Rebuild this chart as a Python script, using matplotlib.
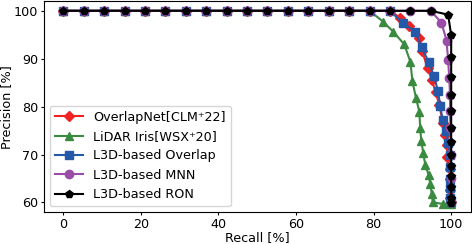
import matplotlib
matplotlib.use("Agg")
import matplotlib.pyplot as plt

plt.rcParams['font.size'] = 9.2

# recall values on the flat part (same for all curves)
topo = [k * 100 / 19 for k in range(19)]

# OverlapNet
rec_overlapnet = topo[:17] + [86.8, 89.2, 91.8, 92.5, 93.9, 95.0, 96.0, 96.9, 97.9, 98.4, 99.0, 99.0, 99.7, 99.8, 99.8, 99.8, 100]
prec_overlapnet = [100] * 17 + [98.6, 96.8, 94.4, 91.6, 88.1, 85.6, 83.0, 80.4, 76.5, 74.0, 71.9, 69.5, 67.0, 64.8, 62.5, 61.0, 60.0]

# LiDAR Iris
rec_iris = topo[:16] + [82.5, 85.1, 87.9, 89.5, 90.0, 90.9, 91.8, 92.0, 92.3, 92.8, 93.3, 94.2, 94.6, 95.0, 95.3, 97.9, 100]
prec_iris = [100] * 16 + [97.7, 95.6, 93.0, 89.3, 85.3, 81.9, 78.9, 75.6, 72.8, 70.3, 67.9, 65.7, 63.9, 61.7, 60.0, 59.7, 59.7]

# L3D Overlap
rec_overlap = topo[:17] + [87.5, 90.7, 92.4, 94.2, 95.6, 96.6, 97.2, 97.8, 98.6, 99.3, 99.7, 99.8, 99.8, 99.8, 99.8, 100]
prec_overlap = [100] * 17 + [97.5, 95.6, 92.4, 89.3, 86.3, 83.2, 80.1, 77.2, 74.9, 72.5, 70.0, 67.4, 64.8, 63.0, 61.0, 60.0]

# L3D MNN
rec_mnn = topo + [97.5, 98.8, 99.2, 99.5, 99.7, 99.7, 99.8, 99.9, 99.9, 100]
prec_mnn = [100] * 19 + [97.5, 93.8, 89.8, 86.0, 82.5, 79.1, 75.6, 70.0, 65.0, 60.0]

# L3D RON
rec_ron = topo + [99.2] + [100] * 13
prec_ron = [100] * 19 + [99.2, 94.9, 90.3, 86.2, 82.5, 79.1, 75.6, 72.6, 69.8, 67.7, 65.5, 63.3, 61.0, 59.8]

fig, ax = plt.subplots(figsize=(4.72, 2.44), dpi=100)
fig.subplots_adjust(left=0.093, right=0.997, top=0.995, bottom=0.131)

ax.plot(rec_overlapnet, prec_overlapnet, '-', marker='D', color='#f02222', lw=1.5, ms=5, label='OverlapNet[CLM⁺22]')
ax.plot(rec_iris, prec_iris, '-', marker='^', color='#3a8a40', lw=1.5, ms=6, label='LiDAR Iris[WSX⁺20]')
ax.plot(rec_overlap, prec_overlap, '-', marker='s', color='#2458a8', lw=1.5, ms=6, label='L3D-based Overlap')
ax.plot(rec_mnn, prec_mnn, '-', marker='o', color='#9a4ca8', lw=1.5, ms=6, label='L3D-based MNN')
ax.plot(rec_ron, prec_ron, '-', marker='p', color='black', lw=1.5, ms=6, label='L3D-based RON')

ax.set_xlim(-5, 105)
ax.set_ylim(58, 102)
ax.set_xticks([0, 20, 40, 60, 80, 100])
ax.set_yticks([60, 70, 80, 90, 100])
ax.tick_params(length=2.5, pad=1.5)
ax.set_xlabel('Recall [%]', labelpad=0)
ax.set_ylabel('Precision [%]', labelpad=1)
ax.legend(loc='lower left', handlelength=2.2, borderaxespad=0.45)

plt.savefig('out.png', dpi=100)
